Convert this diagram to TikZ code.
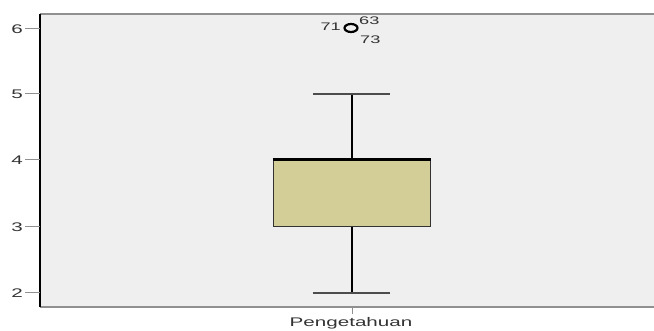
\documentclass[tikz,border=0pt]{standalone}
\usepackage{fontspec}
\setmainfont{Liberation Sans}
\usetikzlibrary{shapes.geometric}
\definecolor{plotbg}{HTML}{EFEFEF}
\definecolor{boxfill}{HTML}{D3CE97}
\definecolor{framegray}{HTML}{909090}
\definecolor{txtgray}{HTML}{333333}
\newcommand\widetxt[1]{\scalebox{1.65}[1]{#1}}
\begin{document}
\begin{tikzpicture}[x=1pt,y=-1pt,
  ticklab/.style={font=\fontsize{12.5}{14}\selectfont, text=txtgray, anchor=east, inner sep=0pt},
  tickline/.style={line width=1pt, framegray},
  whisk/.style={line width=2.5pt, black},
  whiskcap/.style={line width=2.5pt, black!70},
  outlab/.style={font=\fontsize{11}{13}\selectfont, text=txtgray, inner sep=0pt}]
\useasboundingbox (0,0) rectangle (654,331);
% plot area
\fill[plotbg] (40,14) rectangle (654,307);
\draw[framegray, line width=1.2pt] (40,14) -- (654,14);
\draw[framegray, line width=1.2pt] (40,307) -- (654,307);
\draw[black, line width=1.2pt] (40,14) -- (40,307);
% y ticks
\foreach \v/\y in {6/29,5/94,4/160,3/227,2/293}{
  \draw[tickline] (25,\y) -- (40,\y);
  \node[ticklab] (t\v) at (23,\y) {\widetxt{\v}};
}
% whiskers
\coordinate (wtop) at (352,94);
\coordinate (wbot) at (352,293);
\coordinate (q3) at (352,160);
\coordinate (q1) at (352,227);
\draw[whisk] (wtop) -- (q3);
\draw[whisk] (q1) -- (wbot);
\draw[whiskcap] (313,94) -- (390,94);
\draw[whiskcap] (313,293) -- (390,293);
% box
\node[draw=black!80, line width=1pt, fill=boxfill, minimum width=157pt, minimum height=67pt, inner sep=0pt] (box) at (351.5,193.5) {};
\draw[black, line width=2.5pt] (box.north west) -- (box.north east);
% x tick and label
\draw[tickline] (352,307) -- (352,314);
\node[font=\fontsize{12.5}{14}\selectfont, text=txtgray, anchor=north, inner sep=0pt] (xl) at (351,317) {\widetxt{Pengetahuan}};
% outlier
\node[ellipse, draw=black, line width=2.2pt, minimum width=13pt, minimum height=8pt, inner sep=0pt] (o) at (351,28) {};
\node[outlab, anchor=east] (l71) at (341,27) {\widetxt{71}};
\node[outlab, anchor=west] (l63) at (359,21) {\widetxt{63}};
\node[outlab, anchor=west] (l73) at (360,40) {\widetxt{73}};
\end{tikzpicture}
\end{document}
